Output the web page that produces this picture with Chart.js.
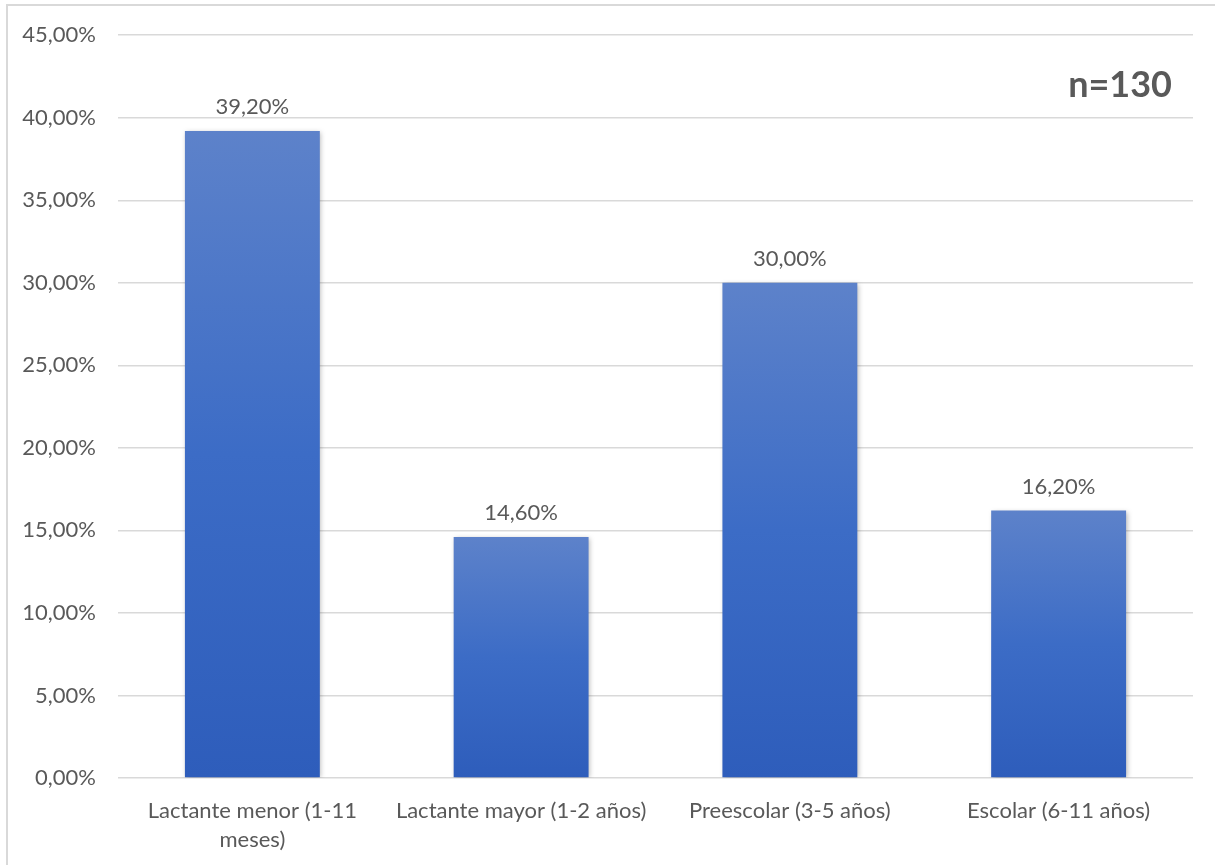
<!DOCTYPE html>
<html lang="es">
<head>
<meta charset="utf-8">
<title>Distribución por grupo de edad</title>
<script src="https://cdn.jsdelivr.net/npm/chart.js@4/dist/chart.umd.min.js"></script>
<style>
  html, body { margin: 0; padding: 0; background: #ffffff; }
  #wrap { position: relative; width: 1215px; height: 865px; overflow: hidden; }
  #frame { position: absolute; left: 6px; top: 4px; width: 1230px; height: 880px;
           border-left: 2px solid #d9d9d9; border-top: 2px solid #d9d9d9; box-sizing: border-box; }
  canvas { position: absolute; left: 0; top: 0; }
</style>
</head>
<body>
<div id="wrap">
  <div id="frame"></div>
  <canvas id="chart" width="1215" height="865"></canvas>
</div>
<script>
// Grupos de edad y porcentaje de pacientes en cada uno
const categories = [
  ["Lactante menor (1-11", "meses)"],
  "Lactante mayor (1-2 años)",
  "Preescolar (3-5 años)",
  "Escolar (6-11 años)"
];
const percentages = [39.2, 14.6, 30.0, 16.2];
const sampleLabel = "n=130";
const yMin = 0, yMax = 45, yStep = 5;

const textColor = "#595959";
const fontFamily = "Lato, 'Open Sans', 'Liberation Sans', sans-serif";

const fmt = v => v.toFixed(2).replace(".", ",") + "%";

// Vertical gradient per bar: lighter on top, deeper blue at the base
function barFill(ctx) {
  const chart = ctx.chart;
  const area = chart.chartArea;
  if (!area || ctx.type !== "data") return "#3f6cc4";
  const y = chart.scales.y;
  const top = y.getPixelForValue(ctx.raw);
  const bottom = y.getPixelForValue(0);
  const g = chart.ctx.createLinearGradient(0, top, 0, bottom);
  g.addColorStop(0, "#5d82ca");
  g.addColorStop(0.5, "#3c6cc6");
  g.addColorStop(1, "#2e5dbb");
  return g;
}

// Soft shadow behind the bars
const barShadow = {
  id: "barShadow",
  beforeDatasetsDraw(chart) {
    const c = chart.ctx;
    c.save();
    c.shadowColor = "rgba(0,0,0,0.28)";
    c.shadowBlur = 5;
    c.shadowOffsetX = 1.5;
    c.shadowOffsetY = 1;
  },
  afterDatasetsDraw(chart) {
    chart.ctx.restore();
  }
};

// Value labels above each bar and the sample size note
const annotations = {
  id: "annotations",
  afterDraw(chart) {
    const c = chart.ctx;
    const meta = chart.getDatasetMeta(0);
    c.save();
    c.fillStyle = textColor;
    c.font = "22px " + fontFamily;
    c.textAlign = "center";
    c.textBaseline = "alphabetic";
    meta.data.forEach((bar, i) => {
      c.fillText(fmt(percentages[i]), bar.x, bar.y - 17);
    });
    c.font = "bold 36px " + fontFamily;
    c.textAlign = "right";
    c.fillText(sampleLabel, 1172, 97);
    c.restore();
  }
};

new Chart(document.getElementById("chart"), {
  type: "bar",
  data: {
    labels: categories,
    datasets: [{
      data: percentages,
      backgroundColor: barFill,
      borderWidth: 0,
      barPercentage: 0.502,
      categoryPercentage: 1.0
    }]
  },
  options: {
    responsive: false,
    animation: false,
    devicePixelRatio: 1,
    layout: { padding: { left: 0, top: 34, right: 22, bottom: 0 } },
    plugins: { legend: { display: false }, tooltip: { enabled: false } },
    scales: {
      x: {
        grid: { display: false, drawTicks: false },
        border: { display: false },
        ticks: {
          color: textColor,
          font: { family: fontFamily, size: 22, lineHeight: 1.3 },
          padding: 19,
          maxRotation: 0,
          autoSkip: false
        },
        afterFit(scale) { scale.height = 87; }
      },
      y: {
        min: yMin,
        max: yMax,
        grid: { color: "#d9d9d9", lineWidth: 1.5, drawTicks: false },
        border: { display: false },
        ticks: {
          stepSize: yStep,
          color: textColor,
          font: { family: fontFamily, size: 22 },
          padding: 22,
          callback: v => fmt(v)
        },
        afterFit(scale) { scale.width = 118; }
      }
    }
  },
  plugins: [barShadow, annotations]
});
</script>
</body>
</html>
